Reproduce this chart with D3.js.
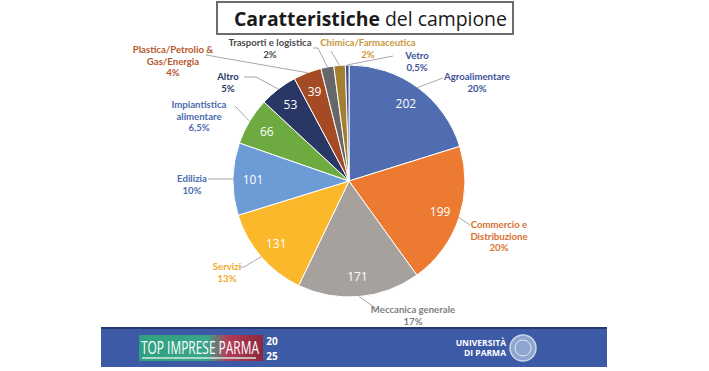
<!DOCTYPE html>
<html><head><meta charset="utf-8">
<script src="https://cdn.jsdelivr.net/npm/d3@7"></script>
<style>
html,body{margin:0;padding:0;background:#fff;}
svg{display:block;}
text{font-family:"Open Sans","Noto Sans",sans-serif;}
</style></head>
<body>
<svg id="c" width="709" height="371"></svg>
<script>
// ---- data ----
const categories = ["Agroalimentare","Commercio e Distribuzione","Meccanica generale","Servizi","Edilizia","Impiantistica alimentare","Altro","Plastica/Petrolio & Gas/Energia","Trasporti e logistica","Chimica/Farmaceutica","Vetro"];
const values = [202,199,171,131,101,66,53,39,18,16,5];
const percentLabels = ["20%","20%","17%","13%","10%","6,5%","5%","4%","2%","2%","0,5%"];
const labelLines = [["Agroalimentare"],["Commercio e","Distribuzione"],["Meccanica generale"],["Servizi"],["Edilizia"],["Impiantistica","alimentare"],["Altro"],["Plastica/Petrolio &","Gas/Energia"],["Trasporti e logistica"],["Chimica/Farmaceutica"],["Vetro"]];
const showValue = [true,true,true,true,true,true,true,true,false,false,false];
const titleBold = "Caratteristiche";
const titleRest = " del campione";

// ---- styles / layout ----
const sliceColors = ["#4f6db0","#ec7a30","#a6a19c","#fbb82a","#6c9bd6","#6dab40","#283763","#a44a25","#67676a","#a47f30","#3e4f8f"];
const labelColors = ["#41519a","#d6702f","#808080","#f2a826","#4a6cb0","#4a6cb0","#2c3763","#b5572c","#4a4a4a","#c8983a","#41519a"];
// label anchor (center x, first-line y)
const labelPos = [[477,80],[499,228],[413,313],[227,270],[192,182],[199,108],[228,80],[173,53],[270,46],[368,46],[417,59]];
// leader line points after edge point
const leadPts = [[[443,78]],[[470,225]],[[377,309]],[[244,267],[239,267]],[[208,179]],[[235,106]],[[256,77],[244,77]],[[206,55]],[[318,48],[313,48]],[[331,51]],[[393,56]]];

const cx = 349, cy = 181, R = 116;
const svg = d3.select("#c");

// title
svg.append("rect").attr("x",217).attr("y",2).attr("width",296).attr("height",32)
  .attr("fill","#fff").attr("stroke","#6b6b6b").attr("stroke-width",2);
const tt = svg.append("text").attr("x",234).attr("y",26).attr("font-size",22).attr("fill","#1a1a1a");
tt.append("tspan").attr("font-weight","bold").text(titleBold);
tt.append("tspan").text(titleRest);
let w = tt.node().getComputedTextLength();
tt.attr("font-size", 22*273/w);

// pie
const pie = d3.pie().sort(null).value(d=>d)(values);
const arc = d3.arc().innerRadius(0).outerRadius(R);
const g = svg.append("g").attr("transform",`translate(${cx},${cy})`);
g.selectAll("path").data(pie).join("path")
  .attr("d",arc).attr("fill",(d,i)=>sliceColors[i])
  .attr("stroke","#fff").attr("stroke-width",1);

const lblArc = d3.arc().innerRadius(96).outerRadius(96);
g.selectAll("text.v").data(pie.filter((d,i)=>showValue[i])).join("text")
  .attr("class","v")
  .attr("x",d=>lblArc.centroid(d)[0]).attr("y",d=>lblArc.centroid(d)[1])
  .attr("text-anchor","middle").attr("dominant-baseline","central")
  .attr("font-size",12).attr("fill","#fff")
  .text(d=>d.data);

// leader lines
pie.forEach((d,i)=>{
  const a = (d.startAngle+d.endAngle)/2;
  const p0 = [cx+R*Math.sin(a), cy-R*Math.cos(a)];
  const pts = [p0].concat(leadPts[i]);
  svg.append("path").attr("d",d3.line()(pts)).attr("fill","none")
    .attr("stroke","#a8a8a8").attr("stroke-width",1);
});

// category labels
categories.forEach((c,i)=>{
  const t = svg.append("text").attr("text-anchor","middle")
    .style("font-family","Lato,'Open Sans',sans-serif")
    .attr("font-size",9.6).attr("font-weight","bold").attr("fill",labelColors[i]);
  const lines = labelLines[i].concat([percentLabels[i]]);
  lines.forEach((l,k)=>{
    t.append("tspan").attr("x",labelPos[i][0]).attr("y",labelPos[i][1]+k*11.5).text(l);
  });
});

// bottom banner
svg.append("rect").attr("x",101).attr("y",328).attr("width",506).attr("height",39).attr("fill","#3c5aa6");
svg.append("rect").attr("x",101).attr("y",327).attr("width",506).attr("height",2).attr("fill","#26386e");
const defs = svg.append("defs");
const lg = defs.append("linearGradient").attr("id","lg").attr("x1","0").attr("x2","1");
lg.append("stop").attr("offset","0").attr("stop-color","#2fa07f");
lg.append("stop").attr("offset","0.55").attr("stop-color","#3aa58a");
lg.append("stop").attr("offset","0.72").attr("stop-color","#b43a55");
lg.append("stop").attr("offset","1").attr("stop-color","#8a2a3e");
svg.append("rect").attr("x",139).attr("y",335).attr("width",124).attr("height",26).attr("fill","url(#lg)");
const logo = svg.append("text").attr("x",0).attr("y",0)
  .attr("font-size",18).attr("fill","#fff").text("TOP IMPRESE PARMA");
const lw = logo.node().getComputedTextLength();
logo.attr("transform",`translate(141,354) scale(${118/lw},1)`);
svg.append("rect").attr("x",142).attr("y",357).attr("width",114).attr("height",2).attr("fill","#d8efe6").attr("opacity",0.7);
svg.append("text").attr("x",272).attr("y",345).attr("text-anchor","middle").attr("font-size",10).attr("font-weight","bold").attr("fill","#fff").text("20");
svg.append("text").attr("x",272).attr("y",360).attr("text-anchor","middle").attr("font-size",10).attr("font-weight","bold").attr("fill","#fff").text("25");
svg.append("text").attr("x",506).attr("y",346).attr("text-anchor","end").attr("font-size",8.5).attr("font-weight","bold").attr("fill","#fff").text("UNIVERSITÀ");
svg.append("text").attr("x",506).attr("y",356).attr("text-anchor","end").attr("font-size",8.5).attr("font-weight","bold").attr("fill","#fff").text("DI PARMA");
svg.append("circle").attr("cx",523).attr("cy",348).attr("r",13).attr("fill","#8fa6cf").attr("stroke","#c9d5ea").attr("stroke-width",1.5);
svg.append("circle").attr("cx",523).attr("cy",348).attr("r",8).attr("fill","none").attr("stroke","#dfe7f3").attr("stroke-width",1);
</script>
</body></html>
